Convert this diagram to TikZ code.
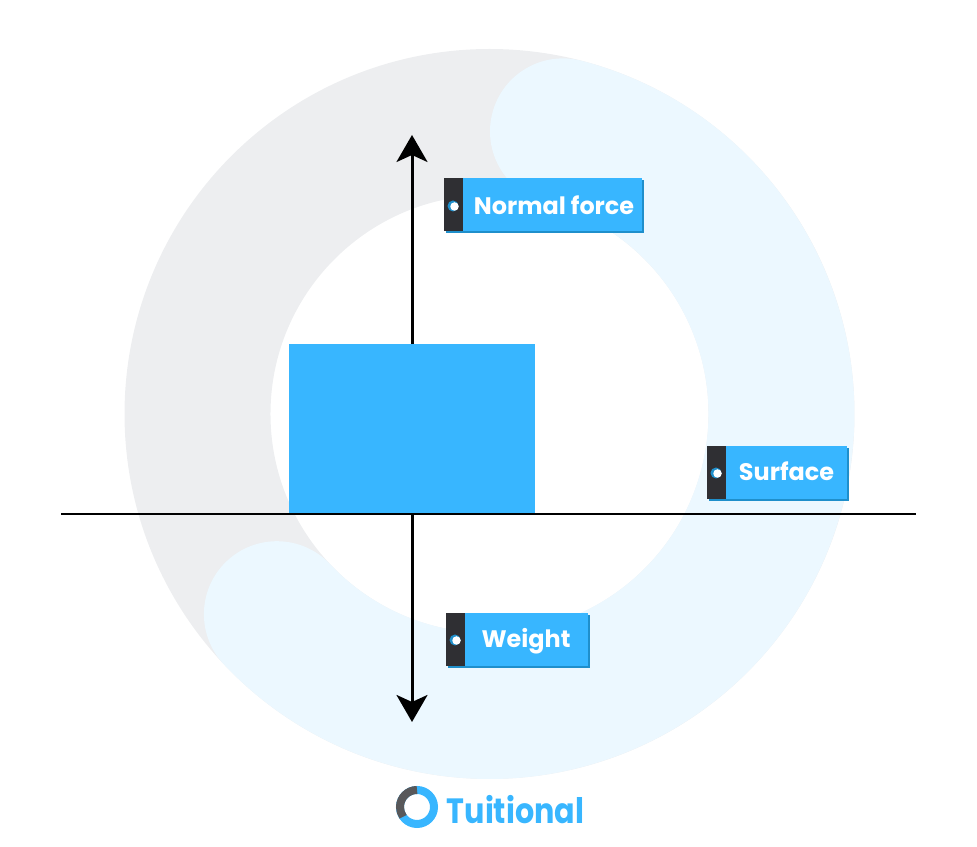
\documentclass[tikz,border=0pt]{standalone}
\usepackage{fontspec}
\setmainfont{Poppins}
\newfontfamily\logofont[FakeStretch=0.86]{Poppins}
\usetikzlibrary{arrows.meta}
\definecolor{tagblue}{HTML}{38B6FF}
\definecolor{tagshade}{HTML}{1F8FCB}
\definecolor{tagdark}{HTML}{2F2F33}
\definecolor{ringgrey}{HTML}{EDEEF0}
\definecolor{ringblue}{HTML}{ECF8FF}
\definecolor{logogrey}{HTML}{58585A}
\tikzset{
  tagbox/.style={fill=tagblue,minimum height=1.06cm,inner sep=0pt,outer sep=0pt},
  tagshadow/.style={fill=tagshade,minimum height=1.06cm,inner sep=0pt,outer sep=0pt},
  tagbar/.style={fill=tagdark,minimum width=0.38cm,minimum height=1.06cm,inner sep=0pt,outer sep=0pt},
  tagdotback/.style={circle,fill=tagshade,minimum size=0.22cm,inner sep=0pt},
  tagdot/.style={circle,fill=white,minimum size=0.17cm,inner sep=0pt},
  tagtext/.style={text=white,font=\fontsize{13.6}{16}\selectfont\bfseries,inner sep=0pt},
  forcearrow/.style={line width=0.06cm,-{Stealth[length=0.54cm,width=0.62cm,inset=0.14cm]}},
}
\begin{document}
\begin{tikzpicture}[x=0.02cm,y=0.02cm]
 \useasboundingbox (0,0) rectangle (977,847);
 % ring behind everything
 \coordinate (ringcentre) at (489.5,433);
 \draw[ringgrey,line width=2.92cm] (ringcentre) circle (292);
 \draw[ringblue,line width=2.92cm,line cap=round] (563,715.6) arc[start angle=75.4,end angle=-136.7,radius=292];
 % block and surface
 \node[fill=tagblue,minimum width=4.92cm,minimum height=3.4cm,inner sep=0pt,outer sep=0pt] (block) at (412,418) {};
 \coordinate (surfaceleft) at (61,333);
 \coordinate (surfaceright) at (916,333);
 \draw[line width=0.055cm] (surfaceleft)--(surfaceright);
 % forces
 \coordinate (normaltip) at (412,712);
 \coordinate (weighttip) at (412,125);
 \draw[forcearrow] (block.north)--(normaltip);
 \draw[forcearrow] (block.south)--(weighttip);
 % normal force tag
 \node[tagshadow,minimum width=3.96cm] (normalshadow) at (545,640) {};
 \node[tagbox,minimum width=3.96cm] (normalbox) at (543,642) {};
 \node[tagbar] (normalbar) at (453.5,642) {};
 \node[tagdotback] (normaldotback) at (453,641) {};
 \node[tagdot] (normaldot) at (454.5,640.5) {};
 \node[tagtext] (normaltext) at (554,642) {Normal force};
 % surface tag
 \node[tagshadow,minimum width=2.82cm] (surfaceshadow) at (779,372.5) {};
 \node[tagbox,minimum width=2.82cm] (surfacebox) at (777,374.5) {};
 \node[tagbar] (surfacebar) at (716.5,374.5) {};
 \node[tagdotback] (surfacedotback) at (716,374) {};
 \node[tagdot] (surfacedot) at (717.5,373.5) {};
 \node[tagtext] (surfacetext) at (786.5,375.5) {Surface};
 % weight tag
 \node[tagshadow,minimum width=2.84cm] (weightshadow) at (519,205.5) {};
 \node[tagbox,minimum width=2.84cm] (weightbox) at (517,207.5) {};
 \node[tagbar] (weightbar) at (455.5,207.5) {};
 \node[tagdotback] (weightdotback) at (455,207) {};
 \node[tagdot] (weightdot) at (456.5,206.5) {};
 \node[tagtext] (weighttext) at (526,206) {Weight};
 % logo
 \coordinate (logocentre) at (417,40);
 \draw[tagblue,line width=0.16cm] (logocentre) circle (17);
 \draw[logogrey,line width=0.16cm] (417,57) arc[start angle=90,end angle=215,radius=17];
 \node[text=tagblue,font=\logofont\fontsize{20}{24}\selectfont\bfseries,inner sep=0pt] (logotext) at (515.5,37) {Tuitional};
\end{tikzpicture}
\end{document}
